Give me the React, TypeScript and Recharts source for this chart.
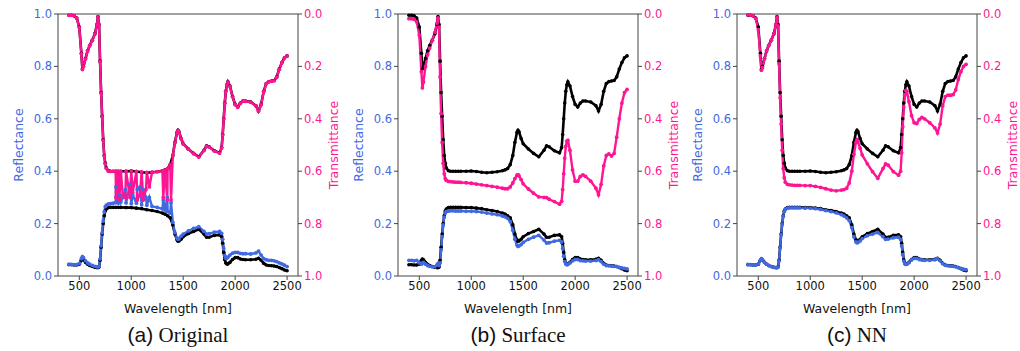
import { Line, LineChart, ReferenceLine, XAxis, YAxis } from "recharts";

const BLUE = "#4169e1";
const PINK = "#ff1493";
const INK = "#000000";
const SPINE = "#444444";
const FONT = "DejaVu Sans, sans-serif";

const wavelengths = [
  400, 425, 450, 475, 500, 520, 530, 540, 560, 580,
  600, 625, 650, 670, 680, 690, 700, 710, 720, 730,
  740, 750, 760, 780, 800, 825, 850, 875, 900, 950,
  1000, 1050, 1100, 1150, 1200, 1250, 1300, 1325, 1350, 1375,
  1400, 1420, 1440, 1450, 1460, 1480, 1500, 1550, 1600, 1650,
  1700, 1725, 1750, 1800, 1850, 1870, 1880, 1890, 1900, 1910,
  1920, 1930, 1950, 1975, 2000, 2025, 2050, 2075, 2100, 2150,
  2200, 2225, 2250, 2275, 2300, 2325, 2350, 2375, 2400, 2425,
  2450, 2475, 2500,
];

// ground truth (black)
const reflTruth = [
  0.043, 0.043, 0.042, 0.042, 0.045, 0.060, 0.065, 0.062, 0.052, 0.045,
  0.040, 0.036, 0.033, 0.032, 0.032, 0.034, 0.060, 0.110, 0.160, 0.200,
  0.230, 0.248, 0.256, 0.261, 0.262, 0.262, 0.262, 0.262, 0.262, 0.261,
  0.261, 0.259, 0.257, 0.253, 0.250, 0.246, 0.240, 0.236, 0.230, 0.222,
  0.195, 0.160, 0.138, 0.133, 0.134, 0.140, 0.150, 0.162, 0.170, 0.178,
  0.160, 0.148, 0.148, 0.155, 0.157, 0.150, 0.125, 0.090, 0.062, 0.050,
  0.046, 0.046, 0.052, 0.063, 0.070, 0.070, 0.065, 0.063, 0.062, 0.062,
  0.064, 0.068, 0.060, 0.048, 0.042, 0.040, 0.039, 0.038, 0.036, 0.032,
  0.028, 0.023, 0.020,
];
const transTruth = [
  0.005, 0.005, 0.007, 0.015, 0.050, 0.150, 0.210, 0.200, 0.170, 0.140,
  0.120, 0.100, 0.075, 0.040, 0.010, 0.040, 0.180, 0.300, 0.390, 0.480,
  0.540, 0.570, 0.588, 0.598, 0.600, 0.600, 0.600, 0.600, 0.600, 0.600,
  0.599, 0.601, 0.604, 0.606, 0.604, 0.602, 0.598, 0.595, 0.590, 0.575,
  0.540, 0.490, 0.452, 0.444, 0.450, 0.475, 0.495, 0.515, 0.532, 0.545,
  0.520, 0.503, 0.507, 0.522, 0.530, 0.510, 0.460, 0.400, 0.340, 0.295,
  0.270, 0.259, 0.275, 0.315, 0.345, 0.355, 0.340, 0.332, 0.332, 0.336,
  0.350, 0.370, 0.345, 0.295, 0.265, 0.258, 0.256, 0.254, 0.240, 0.210,
  0.185, 0.167, 0.160,
];

// (a) original
const reflOriginal = [
  0.045, 0.044, 0.043, 0.043, 0.048, 0.066, 0.074, 0.070, 0.058, 0.050,
  0.045, 0.040, 0.037, 0.035, 0.035, 0.037, 0.065, 0.115, 0.165, 0.210,
  0.245, 0.265, 0.270, 0.275, 0.276, 0.278, 0.280, 0.278, 0.282, 0.279,
  0.276, 0.278, 0.272, 0.270, 0.266, 0.262, 0.256, 0.252, 0.246, 0.240,
  0.205, 0.165, 0.145, 0.140, 0.142, 0.152, 0.160, 0.172, 0.182, 0.188,
  0.170, 0.160, 0.162, 0.167, 0.170, 0.163, 0.140, 0.105, 0.078, 0.068,
  0.068, 0.072, 0.080, 0.087, 0.090, 0.090, 0.086, 0.085, 0.085, 0.084,
  0.088, 0.095, 0.080, 0.066, 0.062, 0.060, 0.060, 0.058, 0.055, 0.050,
  0.046, 0.041, 0.036,
];
const transOriginal = [
  0.005, 0.005, 0.007, 0.016, 0.052, 0.152, 0.212, 0.201, 0.171, 0.141,
  0.121, 0.101, 0.076, 0.041, 0.011, 0.041, 0.182, 0.302, 0.392, 0.482,
  0.542, 0.572, 0.590, 0.600, 0.601, 0.601, 0.600, 0.600, 0.601, 0.600,
  0.599, 0.601, 0.603, 0.605, 0.604, 0.602, 0.599, 0.596, 0.590, 0.576,
  0.541, 0.491, 0.453, 0.445, 0.451, 0.476, 0.496, 0.516, 0.533, 0.546,
  0.521, 0.504, 0.508, 0.523, 0.531, 0.511, 0.461, 0.401, 0.341, 0.296,
  0.271, 0.260, 0.276, 0.316, 0.346, 0.356, 0.341, 0.333, 0.333, 0.337,
  0.351, 0.371, 0.346, 0.296, 0.266, 0.259, 0.257, 0.255, 0.241, 0.211,
  0.186, 0.168, 0.161,
];
const spikeWavelengths = [853, 885, 918, 943, 988, 1014, 1058, 1084, 1116, 1142, 1174, 1308, 1347, 1383];
const spikeRefl = [0.34, 0.31, 0.3, 0.33, 0.35, 0.31, 0.33, 0.34, 0.33, 0.3, 0.3, 0.29, 0.3, 0.28];
const spikeTrans = [0.7, 0.71, 0.69, 0.7, 0.7, 0.68, 0.71, 0.69, 0.71, 0.67, 0.66, 0.7, 0.71, 0.71];

// (b) surface
const reflSurface = [
  0.060, 0.060, 0.058, 0.060, 0.050, 0.045, 0.050, 0.052, 0.045, 0.040,
  0.037, 0.035, 0.035, 0.042, 0.048, 0.040, 0.050, 0.100, 0.150, 0.195,
  0.225, 0.240, 0.246, 0.248, 0.249, 0.249, 0.248, 0.248, 0.248, 0.247,
  0.247, 0.246, 0.244, 0.240, 0.237, 0.234, 0.229, 0.226, 0.220, 0.208,
  0.175, 0.140, 0.118, 0.113, 0.115, 0.120, 0.128, 0.140, 0.148, 0.155,
  0.137, 0.126, 0.127, 0.133, 0.136, 0.130, 0.105, 0.075, 0.055, 0.046,
  0.043, 0.044, 0.050, 0.058, 0.063, 0.063, 0.059, 0.058, 0.057, 0.057,
  0.059, 0.062, 0.055, 0.045, 0.040, 0.039, 0.038, 0.037, 0.036, 0.033,
  0.031, 0.029, 0.027,
];
const transSurface = [
  0.018, 0.018, 0.020, 0.030, 0.080, 0.220, 0.282, 0.260, 0.200, 0.155,
  0.130, 0.100, 0.070, 0.035, 0.015, 0.050, 0.240, 0.380, 0.490, 0.570,
  0.610, 0.628, 0.635, 0.639, 0.640, 0.641, 0.642, 0.642, 0.643, 0.644,
  0.646, 0.649, 0.652, 0.655, 0.658, 0.661, 0.665, 0.667, 0.667, 0.660,
  0.645, 0.628, 0.615, 0.613, 0.618, 0.632, 0.648, 0.668, 0.684, 0.698,
  0.700, 0.701, 0.707, 0.716, 0.726, 0.715, 0.670, 0.610, 0.550, 0.505,
  0.485, 0.482, 0.520, 0.595, 0.638, 0.638, 0.620, 0.614, 0.620, 0.638,
  0.665, 0.690, 0.650, 0.580, 0.540, 0.534, 0.542, 0.532, 0.470, 0.400,
  0.340, 0.300, 0.288,
];

// (c) NN
const reflNN = [
  0.044, 0.043, 0.042, 0.042, 0.046, 0.060, 0.066, 0.062, 0.052, 0.045,
  0.040, 0.036, 0.033, 0.032, 0.032, 0.034, 0.058, 0.108, 0.158, 0.198,
  0.228, 0.246, 0.254, 0.259, 0.260, 0.260, 0.260, 0.260, 0.260, 0.259,
  0.259, 0.257, 0.254, 0.250, 0.246, 0.241, 0.234, 0.229, 0.222, 0.212,
  0.185, 0.150, 0.130, 0.127, 0.128, 0.134, 0.143, 0.154, 0.160, 0.166,
  0.150, 0.140, 0.141, 0.146, 0.148, 0.140, 0.115, 0.082, 0.057, 0.047,
  0.044, 0.045, 0.051, 0.061, 0.067, 0.067, 0.063, 0.061, 0.060, 0.060,
  0.062, 0.066, 0.058, 0.047, 0.041, 0.039, 0.038, 0.037, 0.035, 0.032,
  0.029, 0.026, 0.024,
];
const transNN = [
  0.003, 0.004, 0.007, 0.017, 0.060, 0.160, 0.215, 0.205, 0.170, 0.140,
  0.120, 0.100, 0.075, 0.040, 0.012, 0.045, 0.190, 0.320, 0.420, 0.520,
  0.590, 0.625, 0.642, 0.650, 0.652, 0.653, 0.654, 0.654, 0.654, 0.655,
  0.655, 0.658, 0.662, 0.667, 0.672, 0.675, 0.672, 0.670, 0.665, 0.645,
  0.600, 0.535, 0.490, 0.480, 0.488, 0.512, 0.538, 0.572, 0.602, 0.627,
  0.590, 0.572, 0.577, 0.602, 0.615, 0.600, 0.530, 0.430, 0.355, 0.310,
  0.292, 0.295, 0.335, 0.388, 0.415, 0.418, 0.402, 0.395, 0.400, 0.415,
  0.435, 0.454, 0.420, 0.350, 0.315, 0.310, 0.310, 0.308, 0.290, 0.250,
  0.220, 0.200, 0.192,
];

const wavelengthTicks = [500, 1000, 1500, 2000, 2500];
const valueTicks = [0, 0.2, 0.4, 0.6, 0.8, 1];

type Pt = { w: number; v: number };

const toPoints = (ws: number[], vs: number[]): Pt[] => ws.map((w, i) => ({ w, v: vs[i] }));
const withSpikes = (base: Pt[], sw: number[], sv: number[]) =>
  [...base, ...toPoints(sw, sv)].sort((a, b) => a.w - b.w);

const panels = [
  {
    letter: "(a)",
    name: "Original",
    left: 0,
    refl: withSpikes(toPoints(wavelengths, reflOriginal), spikeWavelengths, spikeRefl),
    trans: withSpikes(toPoints(wavelengths, transOriginal), spikeWavelengths, spikeTrans),
  },
  { letter: "(b)", name: "Surface", left: 340, refl: toPoints(wavelengths, reflSurface), trans: toPoints(wavelengths, transSurface) },
  { letter: "(c)", name: "NN", left: 679, refl: toPoints(wavelengths, reflNN), trans: toPoints(wavelengths, transNN) },
];

const truthRefl = toPoints(wavelengths, reflTruth);
const truthTrans = toPoints(wavelengths, transTruth);

function AxisTitle(props: any) {
  const { viewBox, text, color, dx, dy, rotate } = props;
  const vb = viewBox || { x: 0, y: 0, width: 0, height: 0 };
  const x = rotate ? vb.x + dx : vb.x + vb.width / 2;
  const y = rotate ? vb.y + vb.height / 2 : vb.y + dy;
  return (
    <text
      x={x}
      y={y}
      fill={color}
      fontSize={12.5}
      fontFamily={FONT}
      textAnchor="middle"
      dominantBaseline="central"
      transform={rotate ? `rotate(-90, ${x}, ${y})` : undefined}
    >
      {text}
    </text>
  );
}

function Panel({ p }: { p: (typeof panels)[number] }) {
  const dot = (c: string, r: number) => ({ r, fill: c, stroke: "none" });
  return (
    <div style={{ position: "absolute", left: p.left, top: 0, width: 341, height: 351 }}>
      <LineChart width={341} height={318} margin={{ top: 14, right: 0, bottom: 0, left: 0 }}>
        <XAxis
          dataKey="w"
          type="number"
          domain={[295, 2605]}
          ticks={wavelengthTicks}
          allowDataOverflow
          height={42}
          stroke={SPINE}
          tickSize={4}
          tickMargin={2}
          tick={{ fill: "#111", fontSize: 11.5, fontFamily: FONT }}
          label={<AxisTitle text="Wavelength [nm]" color="#111" dy={32} />}
        />
        <YAxis
          yAxisId="r"
          orientation="left"
          domain={[0, 1]}
          ticks={valueTicks}
          width={58}
          stroke={SPINE}
          tickSize={4}
          tickMargin={2}
          tickFormatter={(v: number) => v.toFixed(1)}
          tick={{ fill: BLUE, fontSize: 11.5, fontFamily: FONT }}
          label={<AxisTitle text="Reflectance" color={BLUE} dx={18} rotate />}
        />
        <YAxis
          yAxisId="t"
          orientation="right"
          domain={[0, 1]}
          reversed
          ticks={valueTicks}
          width={43}
          stroke={SPINE}
          tickSize={4}
          tickMargin={2}
          tickFormatter={(v: number) => v.toFixed(1)}
          tick={{ fill: PINK, fontSize: 11.5, fontFamily: FONT }}
          label={<AxisTitle text="Transmittance" color={PINK} dx={35} rotate />}
        />
        <ReferenceLine yAxisId="r" y={1} stroke={SPINE} />
        <Line yAxisId="r" data={truthRefl} dataKey="v" stroke={INK} strokeWidth={2.6} dot={dot(INK, 1.8)} activeDot={false} isAnimationActive={false} />
        <Line yAxisId="t" data={truthTrans} dataKey="v" stroke={INK} strokeWidth={2.6} dot={dot(INK, 1.8)} activeDot={false} isAnimationActive={false} />
        <Line yAxisId="r" data={p.refl} dataKey="v" stroke={BLUE} strokeWidth={2.4} dot={dot(BLUE, 1.9)} activeDot={false} isAnimationActive={false} />
        <Line yAxisId="t" data={p.trans} dataKey="v" stroke={PINK} strokeWidth={2.4} dot={dot(PINK, 1.9)} activeDot={false} isAnimationActive={false} />
      </LineChart>
      <div
        style={{
          position: "absolute",
          left: 0,
          top: 322,
          width: 356,
          height: 26,
          lineHeight: "26px",
          textAlign: "center",
          fontSize: 21,
          color: "#111",
        }}
      >
        <span style={{ fontFamily: "Liberation Sans, Arial, sans-serif" }}>{p.letter}</span>
        <span style={{ fontFamily: "Liberation Serif, Times New Roman, serif" }}> {p.name}</span>
      </div>
    </div>
  );
}

export default function App() {
  return (
    <div style={{ position: "absolute", left: 0, top: 0, width: 1020, height: 351, background: "#fff", overflow: "hidden" }}>
      {panels.map((p) => (
        <Panel key={p.name} p={p} />
      ))}
    </div>
  );
}
